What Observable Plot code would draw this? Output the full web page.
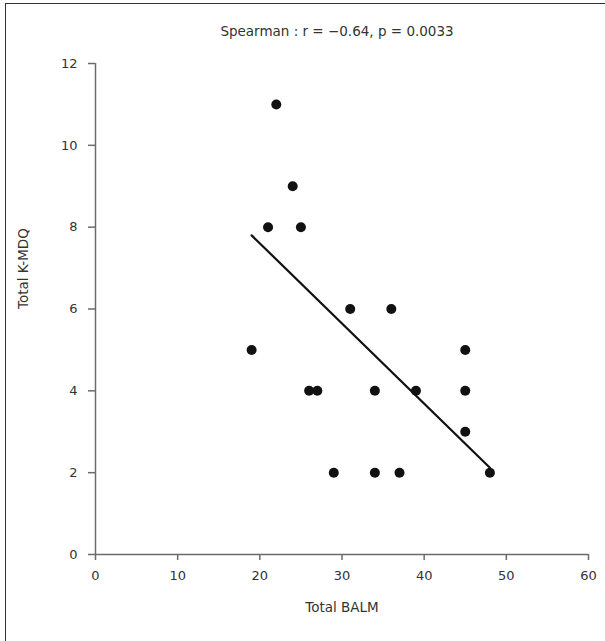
<!DOCTYPE html>
<html>
<head>
<meta charset="utf-8">
<script src="https://cdn.jsdelivr.net/npm/d3@7"></script>
<script src="https://cdn.jsdelivr.net/npm/@observablehq/plot@0.6"></script>
<style>
  html, body { margin: 0; padding: 0; background: #fff; }
  #wrap { position: relative; width: 605px; height: 641px; overflow: hidden; }
  #border { position: absolute; left: 5px; top: 3px; width: 620px; height: 660px;
            border-left: 1.5px solid #333; border-top: 1.5px solid #333; pointer-events: none; }
</style>
</head>
<body>
<div id="wrap"><div id="border"></div></div>
<script>
const balm = [22, 24, 21, 25, 19, 26, 27, 31, 36, 45, 34, 39, 45, 45, 29, 34, 37, 48];
const kmdq = [11, 9, 8, 8, 5, 4, 4, 6, 6, 5, 4, 4, 4, 3, 2, 2, 2, 2];
const fitX = [19, 48];
const fitY = [7.8, 2.12];
const xTicks = [0, 10, 20, 30, 40, 50, 60];
const yTicks = [0, 2, 4, 6, 8, 10, 12];
const title = "Spearman : r = \u22120.64, p = 0.0033";
const xLabel = "Total BALM";
const yLabel = "Total K-MDQ";

const points = balm.map((x, i) => ({x, y: kmdq[i]}));
const fit = fitX.map((x, i) => ({x, y: fitY[i]}));

const font = "'DejaVu Sans', sans-serif";
const axisColor = "#6b6b6b";
const textColor = "#333333";

const chart = Plot.plot({
  width: 605,
  height: 641,
  marginLeft: 95,
  marginRight: 17,
  marginTop: 63,
  marginBottom: 87,
  style: {fontFamily: font, fontSize: "13px", color: textColor, background: "transparent"},
  x: {domain: [0, 60]},
  y: {domain: [0, 12]},
  marks: [
    Plot.ruleY([0], {stroke: axisColor, strokeWidth: 1.5, x1: 0, x2: 60}),
    Plot.ruleX([0], {stroke: axisColor, strokeWidth: 1.5, y1: 0, y2: 12}),
    Plot.axisX({ticks: xTicks, tickSize: 6, tickPadding: 10, stroke: axisColor, strokeWidth: 1.5, strokeOpacity: 1, label: null, fill: textColor, fillOpacity: 1}),
    Plot.axisY({ticks: yTicks, tickSize: 7, tickPadding: 11, stroke: axisColor, strokeWidth: 1.5, strokeOpacity: 1, label: null, fill: textColor, fillOpacity: 1}),
    Plot.line(fit, {x: "x", y: "y", stroke: "#111", strokeWidth: 2.2}),
    Plot.dot(points, {x: "x", y: "y", r: 5, fill: "#111", stroke: "none"}),
    Plot.text([title], {frameAnchor: "top", dy: -37, dx: -5, fontSize: 13.5, fill: textColor, text: d => d}),
    Plot.text([xLabel], {frameAnchor: "bottom", dy: 57, fontSize: 13.5, fill: textColor, text: d => d}),
    Plot.text([yLabel], {frameAnchor: "left", dx: -72, rotate: -90, fontSize: 13.5, fill: textColor, text: d => d})
  ]
});
document.getElementById("wrap").appendChild(chart);
</script>
</body>
</html>
